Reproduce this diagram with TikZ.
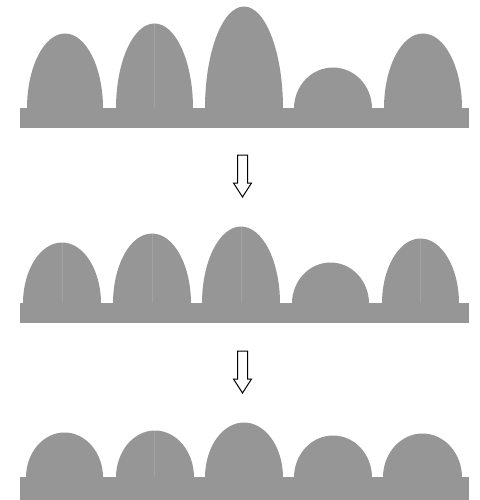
\documentclass[tikz,border=0pt]{standalone}
\definecolor{bumpgray}{RGB}{150,150,150}
\definecolor{seamgray}{RGB}{162,162,162}
\tikzset{every picture/.style={line width=0.75pt}}
\begin{document}
\begin{tikzpicture}[x=1pt,y=1pt,yscale=-1,xscale=1]
	\useasboundingbox (0,0) rectangle (479,500);

	%Shape: Rectangle [row 1 base]
	\fill [bumpgray] (20,108) rectangle (469,128);
	%Shape: Half Ellipse [row 1]
	\fill [bumpgray] (27,108.5) arc (180:360:38 and 75) -- cycle;
	\fill [bumpgray] (116,108.5) arc (180:360:38.5 and 85) -- cycle;
	\fill [bumpgray] (205,108.5) arc (180:360:39 and 102) -- cycle;
	\fill [bumpgray] (294,108.5) arc (180:360:39 and 41) -- cycle;
	\fill [bumpgray] (384,108.5) arc (180:360:39 and 75) -- cycle;
	%Straight Lines [seam]
	\draw [seamgray, line width=0.5] (154.5,24) -- (154.5,108);

	%Shape: Block Arrow [down 1]
	\draw [line width=1] (237.5,155) -- (247.5,155) -- (247.5,183) -- (251.5,183) -- (242.5,197) -- (233.5,183) -- (237.5,183) -- cycle;

	%Shape: Rectangle [row 2 base]
	\fill [bumpgray] (20,303) rectangle (469,323);
	%Shape: Half Ellipse [row 2]
	\fill [bumpgray] (23,303.5) arc (180:360:39 and 61) -- cycle;
	\fill [bumpgray] (113,303.5) arc (180:360:39 and 70) -- cycle;
	\fill [bumpgray] (202,303.5) arc (180:360:39 and 77) -- cycle;
	\fill [bumpgray] (292,303.5) arc (180:360:38.5 and 41) -- cycle;
	\fill [bumpgray] (382,303.5) arc (180:360:38.5 and 65) -- cycle;
	%Straight Lines [seams]
	\draw [seamgray, line width=0.5] (62,243) -- (62,303);
	\draw [seamgray, line width=0.5] (152,234) -- (152,303);
	\draw [seamgray, line width=0.5] (241,227) -- (241,303);
	\draw [seamgray, line width=0.5] (420,239) -- (420,303);

	%Shape: Block Arrow [down 2]
	\draw [line width=1] (237.5,351) -- (247.5,351) -- (247.5,379) -- (251.5,379) -- (242.5,393) -- (233.5,379) -- (237.5,379) -- cycle;

	%Shape: Rectangle [row 3 base]
	\fill [bumpgray] (20,477) rectangle (469,500);
	%Shape: Half Ellipse [row 3]
	\fill [bumpgray] (26,477.5) arc (180:360:38.5 and 45) -- cycle;
	\fill [bumpgray] (116,477.5) arc (180:360:39 and 47) -- cycle;
	\fill [bumpgray] (205,477.5) arc (180:360:39 and 55) -- cycle;
	\fill [bumpgray] (294,477.5) arc (180:360:39 and 42) -- cycle;
	\fill [bumpgray] (383,477.5) arc (180:360:39.5 and 44) -- cycle;
	%Straight Lines [seam]
	\draw [seamgray, line width=0.5] (154.5,431) -- (154.5,477);

\end{tikzpicture}
\end{document}
